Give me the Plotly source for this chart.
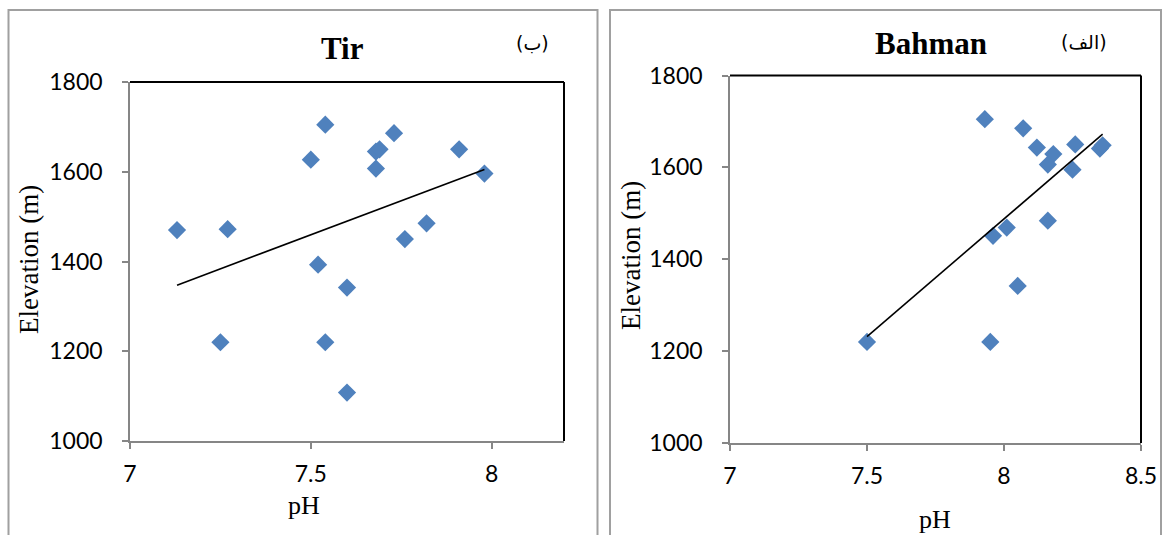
import numpy as np
import plotly.graph_objects as go

W, H = 1164, 535

# Tir (left panel)
tir_ph = [7.13, 7.27, 7.50, 7.54, 7.68, 7.69, 7.68, 7.73, 7.76, 7.82, 7.91, 7.98, 7.52, 7.60, 7.25, 7.54, 7.60]
tir_elev = [1470, 1472, 1627, 1705, 1645, 1650, 1607, 1686, 1450, 1485, 1650, 1596, 1393, 1342, 1220, 1220, 1108]

# Bahman (right panel)
bah_ph = [7.93, 8.07, 8.12, 8.18, 8.16, 8.26, 8.25, 8.35, 8.36, 8.16, 8.01, 7.96, 8.05, 7.50, 7.95]
bah_elev = [1705, 1685, 1643, 1629, 1606, 1650, 1595, 1641, 1648, 1484, 1469, 1451, 1342, 1220, 1220]

x_ticks_left = [7, 7.5, 8]
x_ticks_right = [7, 7.5, 8, 8.5]
y_ticks = [1000, 1200, 1400, 1600, 1800]

BLUE = "#4F81BD"
GRAY = "#868686"
FRAME = "#A0A0A0"
TICKFONT = dict(family="Lato", size=23, color="#000000")
SERIF = "Liberation Serif"


def px_x(p):
    return p / W


def px_y(p):
    return 1 - p / H


def trend(xs, ys):
    k, b = np.polyfit(xs, ys, 1)
    xr = np.array([min(xs), max(xs)])
    return xr, k * xr + b


fig = go.Figure()

for xs, ys, xa, ya in [(tir_ph, tir_elev, "x", "y"), (bah_ph, bah_elev, "x2", "y2")]:
    fig.add_trace(go.Scatter(
        x=xs, y=ys, mode="markers", xaxis=xa, yaxis=ya,
        marker=dict(symbol="diamond", size=14, color=BLUE, line=dict(width=0)),
        showlegend=False, cliponaxis=False,
    ))
    tx, ty = trend(xs, ys)
    fig.add_trace(go.Scatter(
        x=tx, y=ty, mode="lines", xaxis=xa, yaxis=ya,
        line=dict(color="#000000", width=1.6), showlegend=False,
    ))

axis_common = dict(
    showgrid=False, zeroline=False, showline=True, linecolor=GRAY, linewidth=1.5,
    ticks="outside", ticklen=6, tickwidth=1.5, tickcolor=GRAY, tickfont=TICKFONT,
    mirror=False, automargin=False,
)
x_std = dict(ticklabelstandoff=6)
y_std = dict(ticklabelstandoff=15)

fig.update_layout(
    width=W, height=H,
    margin=dict(l=0, r=0, t=0, b=0, pad=0, autoexpand=False),
    showlegend=False,
    paper_bgcolor="#FFFFFF", plot_bgcolor="#FFFFFF",
    xaxis=dict(domain=[px_x(130), px_x(564)], range=[7, 8.2], tickvals=x_ticks_left,
               ticktext=[f"{v:g}" for v in x_ticks_left], anchor="y",
               **x_std, **axis_common),
    yaxis=dict(domain=[px_y(441), px_y(82)], range=[1000, 1800], tickvals=y_ticks,
               anchor="x", **y_std, **axis_common),
    xaxis2=dict(domain=[px_x(730), px_x(1141)], range=[7, 8.5], tickvals=x_ticks_right,
                ticktext=[f"{v:g}" for v in x_ticks_right], anchor="y2",
                **x_std, **axis_common),
    yaxis2=dict(domain=[px_y(443), px_y(75.5)], range=[1000, 1800], tickvals=y_ticks,
                anchor="x2", **y_std, **axis_common),
)

shapes = []
# outer chart frames
for x0, x1 in [(8.5, 597.5), (610, 1161)]:
    shapes.append(dict(type="rect", xref="paper", yref="paper",
                       x0=px_x(x0), x1=px_x(x1), y0=px_y(560), y1=px_y(10),
                       line=dict(color=FRAME, width=2), fillcolor="rgba(0,0,0,0)"))
# black top and right borders of each plot area
for xr, yr in [("x domain", "y domain"), ("x2 domain", "y2 domain")]:
    shapes.append(dict(type="line", xref=xr, yref=yr, x0=0, x1=1, y0=1, y1=1,
                       line=dict(color="#000000", width=2)))
    shapes.append(dict(type="line", xref=xr, yref=yr, x0=1, x1=1, y0=0, y1=1,
                       line=dict(color="#000000", width=2)))
fig.update_layout(shapes=shapes)

annotations = [
    dict(text="<b>Tir</b>", x=px_x(342), y=px_y(49), font=dict(family=SERIF, size=31)),
    dict(text="<b>Bahman</b>", x=px_x(931), y=px_y(44), font=dict(family=SERIF, size=31)),
    dict(text="(ب)", x=px_x(532), y=px_y(43), font=dict(family="DejaVu Sans", size=19)),
    dict(text="(الف)", x=px_x(1084), y=px_y(42), font=dict(family="DejaVu Sans", size=19)),
    dict(text="pH", x=px_x(304), y=px_y(505), font=dict(family=SERIF, size=26)),
    dict(text="pH", x=px_x(935), y=px_y(519), font=dict(family=SERIF, size=26)),
    dict(text="Elevation (m)", x=px_x(29), y=px_y(260), textangle=-90,
         font=dict(family=SERIF, size=27)),
    dict(text="Elevation (m)", x=px_x(631), y=px_y(256), textangle=-90,
         font=dict(family=SERIF, size=27)),
]
for a in annotations:
    a.update(xref="paper", yref="paper", showarrow=False, xanchor="center", yanchor="middle")
    a["font"].setdefault("color", "#000000")
fig.update_layout(annotations=annotations)

# keep the figure flush with the page edges
fig.write_html(
    "out.html",
    post_script="document.body.style.margin='0';document.body.style.overflow='hidden';",
)
